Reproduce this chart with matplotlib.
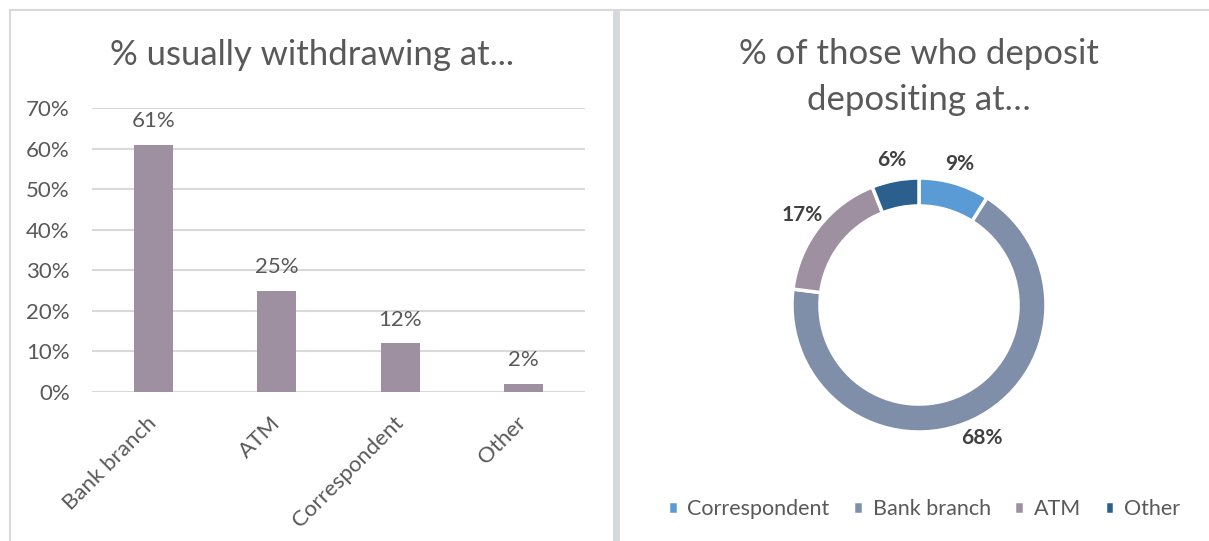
import matplotlib
matplotlib.use('agg')
import matplotlib.pyplot as plt
from matplotlib.patches import Rectangle

# ---------------- data ----------------
withdraw_cats = ['Bank branch', 'ATM', 'Correspondent', 'Other']
withdraw_vals = [0.61, 0.25, 0.12, 0.02]
y_ticks = [0.0, 0.1, 0.2, 0.3, 0.4, 0.5, 0.6, 0.7]

deposit_cats = ['Correspondent', 'Bank branch', 'ATM', 'Other']
deposit_vals = [9, 68, 17, 6]
deposit_colors = ['#5B9BD5', '#7F8FA9', '#9E90A0', '#2B5F8E']

bar_color = '#9E90A0'
txt = '#595959'
grid = '#D9D9D9'

plt.rcParams['font.family'] = ['Lato', 'DejaVu Sans']

W, H = 1209, 541
fig = plt.figure(figsize=(W / 100, H / 100), dpi=100)

def fx(px):
    return px / W

def fy(py):
    return 1 - py / H

# panel frames
fig.add_artist(Rectangle((fx(10), fy(560)), fx(604), (560 - 10) / H, transform=fig.transFigure,
                         fill=False, ec=grid, lw=1.5))
fig.add_artist(Rectangle((fx(619), fy(560)), fx(620), (560 - 10) / H, transform=fig.transFigure,
                         fill=False, ec=grid, lw=1.5))
fig.add_artist(Rectangle((fx(614), 0), fx(4), fy(9), transform=fig.transFigure,
                         fc='#D5D8DE', ec='none'))

# ---------------- bar chart ----------------
ax = fig.add_axes([fx(92), fy(392), fx(585) - fx(92), fy(108) - fy(392)])
x = range(len(withdraw_cats))
bars = ax.bar(x, withdraw_vals, width=0.315, color=bar_color, zorder=3)
for b, v in zip(bars, withdraw_vals):
    ax.annotate('{:.0f}%'.format(v * 100), (b.get_x() + b.get_width() / 2, v),
                xytext=(0, 17), textcoords='offset points', ha='center', va='center',
                fontsize=16, color=txt)
ax.set_xlim(-0.5, 3.5)
ax.set_ylim(0, 0.7)
ax.set_yticks(y_ticks)
ax.set_yticklabels(['{:.0f}%'.format(t * 100) for t in y_ticks])
ax.yaxis.grid(True, color=grid, lw=1.5, zorder=0)
ax.set_xticks(list(x))
ax.set_xticklabels(withdraw_cats, rotation=45, ha='right', va='center', rotation_mode='anchor')
for s in ax.spines.values():
    s.set_visible(False)
ax.tick_params(axis='both', length=0, labelsize=16, labelcolor=txt)
ax.tick_params(axis='y', pad=16)
ax.tick_params(axis='x', pad=20)
fig.text(fx(312), fy(55), '% usually withdrawing at...', ha='center', va='center',
         fontsize=25, color=txt)

# ---------------- donut chart ----------------
cx, cy, r = 919, 305, 127
half = 1.5 * r
ax2 = fig.add_axes([fx(cx - half), fy(cy + half), 2 * half / W, 2 * half / H])
wedges, texts, autotexts = ax2.pie(
    deposit_vals, colors=deposit_colors, startangle=90, counterclock=False,
    radius=1, autopct='%d%%', pctdistance=1.16,
    wedgeprops=dict(width=0.22, edgecolor='white', linewidth=2.5),
    textprops=dict(fontsize=15, fontweight='bold', color='#404040'))
ax2.set_xlim(-1.5, 1.5)
ax2.set_ylim(-1.5, 1.5)
ax2.set_aspect('equal')
ax2.axis('off')

fig.text(fx(919), fy(54), '% of those who deposit', ha='center', va='center',
         fontsize=25, color=txt)
fig.text(fx(919), fy(100), 'depositing at\u2026', ha='center', va='center',
         fontsize=25, color=txt)

fig.legend(wedges, deposit_cats, loc='center', bbox_to_anchor=(fx(924), fy(509)),
           ncol=4, frameon=False, fontsize=15.5, labelcolor=txt,
           handlelength=0.45, handleheight=0.6, handletextpad=0.45, columnspacing=1.1)

fig.savefig('out.png', dpi=100)
